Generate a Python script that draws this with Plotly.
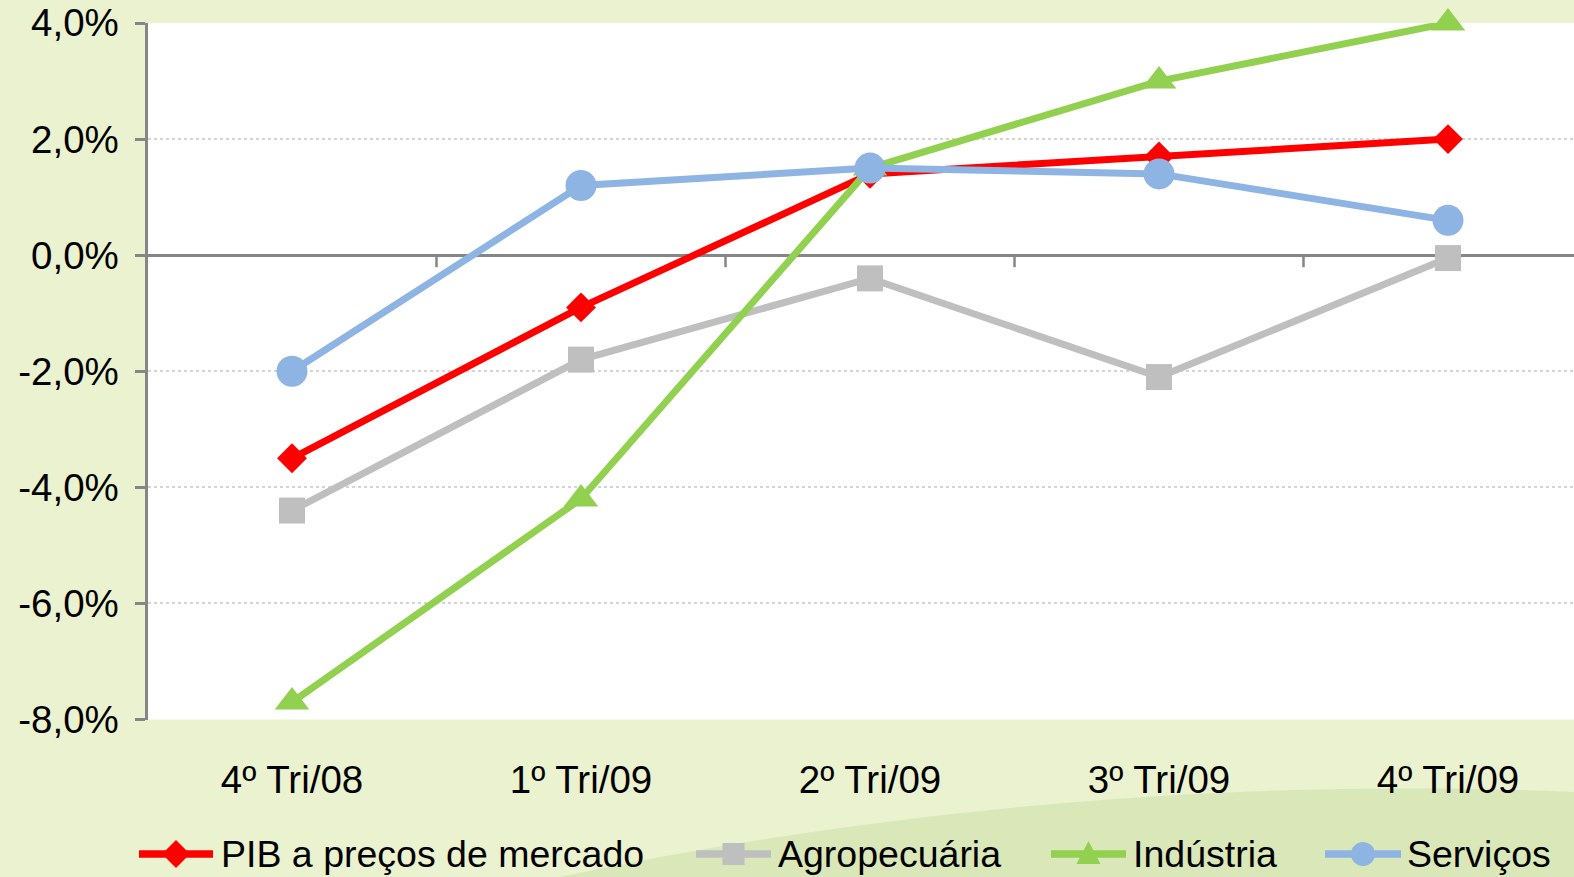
import plotly.graph_objects as go

# Quarterly growth (%), seasonally adjusted, vs. previous quarter
categories = ["4º Tri/08", "1º Tri/09", "2º Tri/09", "3º Tri/09", "4º Tri/09"]
pib = [-3.5, -0.9, 1.4, 1.7, 2.0]
agropecuaria = [-4.4, -1.8, -0.4, -2.1, -0.05]
industria = [-7.7, -4.2, 1.5, 3.0, 4.0]
servicos = [-2.0, 1.2, 1.5, 1.4, 0.6]

series_names = ["PIB a preços de mercado", "Agropecuária", "Indústria", "Serviços"]

y_tick_values = [-8, -6, -4, -2, 0, 2, 4]
y_tick_labels = ["-8,0%", "-6,0%", "-4,0%", "-2,0%", "0,0%", "2,0%", "4,0%"]

W, H = 1574, 877
FONT = "Liberation Sans, Arial, sans-serif"
AXIS_GREY = "#868686"

styles = [
    dict(color="#FF0000", symbol="diamond", size=23),
    dict(color="#BFBFBF", symbol="square", size=26),
    dict(color="#92D050", symbol="triangle-up", size=30),
    dict(color="#8EB4E3", symbol="circle", size=31),
]

# plot-area placement in pixels
left_px, top_px, bottom_px = 147.5, 23, 719.5
cat_step_px = 289


def px(x):
    return x / W


def py(y):
    return 1 - y / H


x_idx = list(range(len(categories)))
x_range = [-0.5, -0.5 + (W - left_px) / cat_step_px]

fig = go.Figure()
for name, vals, st in zip(series_names, [pib, agropecuaria, industria, servicos], styles):
    fig.add_trace(go.Scatter(
        x=x_idx, y=vals, name=name, mode="lines+markers",
        line=dict(color=st["color"], width=7),
        marker=dict(symbol=st["symbol"], size=st["size"], color=st["color"],
                    line=dict(width=0)),
        showlegend=False, cliponaxis=False,
    ))

shapes = []

# soft wave in the background under the axis labels
shapes.append(dict(
    type="path", xref="paper", yref="paper", layer="below",
    path=(f"M {px(560)},{py(877)} C {px(900)},{py(805)} {px(1250)},{py(778)} "
          f"{px(1574)},{py(792)} L {px(1574)},{py(877)} Z"),
    fillcolor="rgba(170,200,120,0.25)", line=dict(width=0),
))

# category boundary ticks on the zero line
for i in range(len(categories) - 1):
    shapes.append(dict(
        type="line", xref="x", yref="y", layer="below",
        x0=i + 0.5, x1=i + 0.5, ysizemode="pixel", yanchor=0, y0=0, y1=-12,
        line=dict(color=AXIS_GREY, width=2.5),
    ))

# hand-built legend row
legend_y = 854
legend_items = [(139, 213, 219), (696, 771, 776), (1051, 1126, 1131), (1325, 1401, 1405)]
annotations = []
for (x0, x1, tx), name, st in zip(legend_items, series_names, styles):
    c = st["color"]
    shapes.append(dict(type="line", xref="paper", yref="paper",
                       x0=px(x0), x1=px(x1), y0=py(legend_y), y1=py(legend_y),
                       line=dict(color=c, width=7.5)))
    cx = (x0 + x1) / 2
    h = 12
    if st["symbol"] == "diamond":
        path = (f"M {px(cx)},{py(legend_y - 14)} L {px(cx + 14)},{py(legend_y)} "
                f"L {px(cx)},{py(legend_y + 14)} L {px(cx - 14)},{py(legend_y)} Z")
        shapes.append(dict(type="path", xref="paper", yref="paper", path=path,
                           fillcolor=c, line=dict(width=0)))
    elif st["symbol"] == "square":
        shapes.append(dict(type="rect", xref="paper", yref="paper",
                           x0=px(cx - 11), x1=px(cx + 11),
                           y0=py(legend_y - 11), y1=py(legend_y + 11),
                           fillcolor=c, line=dict(width=0)))
    elif st["symbol"] == "triangle-up":
        path = (f"M {px(cx)},{py(legend_y - 13)} L {px(cx + 12)},{py(legend_y + 10)} "
                f"L {px(cx - 12)},{py(legend_y + 10)} Z")
        shapes.append(dict(type="path", xref="paper", yref="paper", path=path,
                           fillcolor=c, line=dict(width=0)))
    else:
        shapes.append(dict(type="circle", xref="paper", yref="paper",
                           x0=px(cx - h), x1=px(cx + h),
                           y0=py(legend_y - h), y1=py(legend_y + h),
                           fillcolor=c, line=dict(width=0)))
    annotations.append(dict(
        xref="paper", yref="paper", x=px(tx), y=py(legend_y),
        xanchor="left", yanchor="middle", showarrow=False, text=name,
        font=dict(family=FONT, size=37.5, color="black"),
    ))

fig.update_layout(
    width=W, height=H,
    margin=dict(l=0, r=0, t=0, b=0, autoexpand=False),
    paper_bgcolor="#EAF2CF",
    plot_bgcolor="white",
    font=dict(family=FONT, size=37, color="black"),
    shapes=shapes,
    annotations=annotations,
    xaxis=dict(
        domain=[px(left_px), 1], range=x_range, automargin=False,
        tickmode="array", tickvals=x_idx, ticktext=categories,
        showgrid=False, zeroline=False, showline=False, ticks="",
        tickfont=dict(family=FONT, size=38.5, color="black"),
        ticklabelstandoff=34,
    ),
    yaxis=dict(
        domain=[py(bottom_px), py(top_px)], range=[-8, 4], automargin=False,
        tickmode="array", tickvals=y_tick_values, ticktext=y_tick_labels,
        showgrid=True, gridcolor="#D4D4D4", griddash="dot", gridwidth=2,
        zeroline=True, zerolinecolor=AXIS_GREY, zerolinewidth=3,
        showline=True, linecolor=AXIS_GREY, linewidth=3,
        ticks="outside", ticklen=10, tickwidth=3, tickcolor=AXIS_GREY,
        tickfont=dict(family=FONT, size=38.5, color="black"),
        ticklabelstandoff=8,
    ),
    hovermode=False,
)

fig.write_html("out.html")
